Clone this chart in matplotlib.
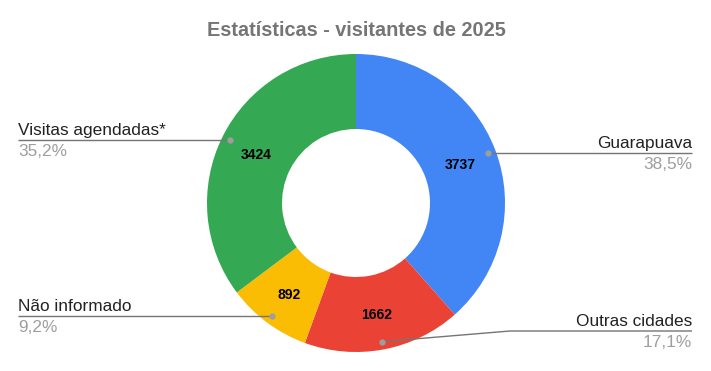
import numpy as np
import matplotlib
matplotlib.use("Agg")
import matplotlib.pyplot as plt

plt.rcParams['font.family'] = ['Liberation Sans', 'DejaVu Sans']

title = "Estatísticas - visitantes de 2025"
categories = ["Guarapuava", "Outras cidades", "Não informado", "Visitas agendadas*"]
values = [3737, 1662, 892, 3424]
colors = ["#4285F4", "#EA4335", "#FBBC04", "#34A853"]

W, H = 711, 371
fig = plt.figure(figsize=(W / 100, H / 100), dpi=100)
ax = fig.add_axes([0, 0, 1, 1])

cx, cy = 356, H - 203
r_out, ring = 149, 75

ax.pie(values, colors=colors, center=(cx, cy), radius=r_out, startangle=90,
       counterclock=False, frame=True,
       wedgeprops=dict(width=ring, linewidth=0))
ax.set_xlim(0, W)
ax.set_ylim(0, H)
ax.axis("off")

total = sum(values)
cum = np.cumsum([0] + values)
# label side and leader-line height (px from top) for each slice
sides = ["right", "right", "left", "left"]
line_y = [None, 331, None, None]

for i, (name, v) in enumerate(zip(categories, values)):
    mid = (cum[i] + cum[i + 1]) / 2 / total * 2 * np.pi
    sx, sy = np.sin(mid), np.cos(mid)
    # value inside the ring
    rm = r_out - ring / 2
    ax.text(cx + rm * sx, cy + rm * sy - 2, str(v), ha="center", va="center",
            fontsize=10, fontweight="bold", color="black")
    # leader line
    rd = r_out * 0.947
    dx, dy = cx + rd * sx, cy + rd * sy
    ly = dy if line_y[i] is None else H - line_y[i]
    if sides[i] == "right":
        xe, ha = 692, "right"
        xs = [dx, 510, xe] if line_y[i] else [dx, xe]
    else:
        xe, ha = 18, "left"
        xs = [dx, xe]
    ys = [dy, ly, ly] if len(xs) == 3 else [dy, ly]
    ax.plot(xs, ys, color="#757575", lw=1, solid_capstyle="butt")
    ax.plot([dx], [dy], "o", ms=3.5, color="#9e9e9e")
    ax.text(xe, ly + 5, name, ha=ha, va="baseline", fontsize=12.4, color="#222222")
    ax.text(xe, ly - 4, f"{v / total * 100:.1f}%".replace(".", ","), ha=ha,
            va="top", fontsize=12.4, color="#9e9e9e")

ax.text(cx, H - 30, title, ha="center", va="center", fontsize=14.3,
        fontweight="bold", color="#757575")

fig.savefig("out.png", dpi=100)
